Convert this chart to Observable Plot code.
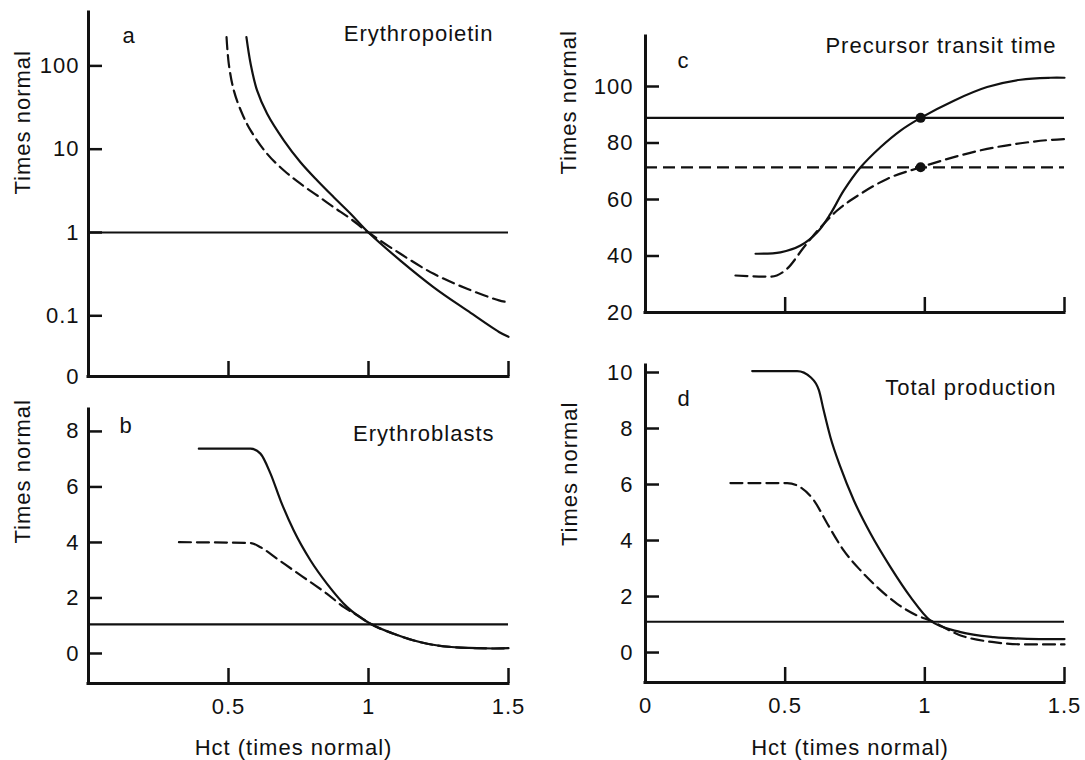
<!DOCTYPE html>
<html>
<head>
<meta charset="utf-8">
<script src="https://cdn.jsdelivr.net/npm/d3@7"></script>
<script src="https://cdn.jsdelivr.net/npm/@observablehq/plot@0.6"></script>
<style>
  body { margin: 0; background: #fff; }
  #root { position: relative; width: 1085px; height: 760px; background: #fff; overflow: hidden;
          font-family: "Liberation Sans", Arial, Helvetica, sans-serif; }
  #root > div { position: absolute; }
</style>
</head>
<body>
<div id="root">
  <div id="pa" style="left:0px;top:0px"></div>
  <div id="pb" style="left:0px;top:380px"></div>
  <div id="pc" style="left:540px;top:0px"></div>
  <div id="pd" style="left:540px;top:340px"></div>
</div>
<script>
// ---------------- DATA ----------------
// shared x axis (Hct, times normal)
const xTickVals = [0.5, 1, 1.5];
const xTickText = ["0.5", "1", "1.5"];
const xTickValsD = [0, 0.5, 1, 1.5];
const xTickTextD = ["0", "0.5", "1", "1.5"];

// (a) Erythropoietin (log scale; bottom of the axis is labelled "0")
const epoAxisMin = 0.01867;
const epoAxisMax = 437.5;
const epoTickVals = [0.1, 1, 10, 100];
const epoLabelVals = [0.01867, 0.1, 1, 10, 100];
const epoLabelText = ["0", "0.1", "1", "10", "100"];
const epoSolidHct = [0.564, 0.579, 0.602, 0.638, 0.698, 0.757, 0.817, 0.876, 0.936, 1.0, 1.114, 1.233, 1.352, 1.466, 1.5];
const epoSolid    = [221, 106, 50.7, 26.6, 12.7, 6.98, 4.21, 2.65, 1.68, 1.0, 0.46, 0.22, 0.116, 0.064, 0.056];
const epoDashHct  = [0.493, 0.501, 0.519, 0.549, 0.579, 0.638, 0.698, 0.757, 0.817, 0.876, 0.936, 1.0, 1.114, 1.233, 1.352, 1.466, 1.5];
const epoDash     = [221, 106, 50.7, 26.6, 16.8, 8.8, 5.55, 3.85, 2.78, 2.01, 1.46, 1.0, 0.555, 0.319, 0.211, 0.153, 0.145];
const epoNormal = [1];

// (b) Erythroblasts
const ebTickVals = [0, 2, 4, 6, 8];
const ebTickText = ["0", "2", "4", "6", "8"];
const ebSolidHct = [0.394, 0.579, 0.614, 0.65, 0.686, 0.733, 0.793, 0.852, 0.924, 1.007, 1.09, 1.21, 1.329, 1.448, 1.5];
const ebSolid    = [7.38, 7.38, 7.2, 6.48, 5.51, 4.43, 3.35, 2.51, 1.67, 1.07, 0.71, 0.35, 0.21, 0.18, 0.19];
const ebDashHct  = [0.323, 0.579, 0.614, 0.674, 0.733, 0.793, 0.852, 0.912, 0.971, 1.007, 1.09, 1.21, 1.329, 1.448, 1.5];
const ebDash     = [4.01, 3.98, 3.83, 3.41, 2.99, 2.57, 2.15, 1.67, 1.31, 1.07, 0.71, 0.35, 0.21, 0.18, 0.19];
const ebNormal = [1.05];

// (c) Precursor transit time
const ptTickVals = [40, 60, 80, 100];
const ptLabelVals = [20, 40, 60, 80, 100];
const ptLabelText = ["20", "40", "60", "80", "100"];
const ptSolidHct = [0.394, 0.483, 0.555, 0.615, 0.662, 0.710, 0.770, 0.841, 0.913, 0.985, 1.104, 1.223, 1.343, 1.450, 1.5];
const ptSolid    = [40.8, 41.3, 43.7, 48.4, 54.9, 63.2, 71.4, 78.5, 84.4, 88.9, 95.0, 99.8, 102.4, 103.1, 103.1];
const ptDashHct  = [0.322, 0.448, 0.507, 0.567, 0.627, 0.686, 0.770, 0.865, 0.985, 1.104, 1.223, 1.343, 1.450, 1.5];
const ptDash     = [33.1, 32.7, 35.5, 43.1, 50.2, 56.1, 62.0, 67.3, 71.4, 75.0, 77.9, 79.9, 81.1, 81.4];
const ptSolidLevel = [88.9];
const ptDashLevel = [71.4];
const ptDotHct = [0.985, 0.985];
const ptDotVal = [88.9, 71.4];

// (d) Total production
const tpTickVals = [0, 2, 4, 6, 8, 10];
const tpTickText = ["0", "2", "4", "6", "8", "10"];
const tpSolidHct = [0.382, 0.543, 0.591, 0.621, 0.638, 0.662, 0.698, 0.746, 0.806, 0.877, 0.949, 1.02, 1.128, 1.247, 1.367, 1.45, 1.5];
const tpSolid    = [10.05, 10.05, 9.83, 9.36, 8.64, 7.69, 6.62, 5.43, 4.24, 3.05, 1.98, 1.14, 0.73, 0.55, 0.49, 0.48, 0.48];
const tpDashHct  = [0.304, 0.507, 0.555, 0.603, 0.651, 0.71, 0.770, 0.83, 0.901, 0.973, 1.02, 1.128, 1.247, 1.367, 1.45, 1.5];
const tpDash     = [6.05, 6.05, 5.9, 5.43, 4.6, 3.64, 2.93, 2.33, 1.74, 1.32, 1.14, 0.61, 0.37, 0.29, 0.29, 0.29];
const tpNormal = [1.1];

// ---------------- DRAWING ----------------
const INK = "#111";
const FONT = '"Liberation Sans", Arial, Helvetica, sans-serif';
const FS = 22;
const DASH = "12,6";
const pts = (xs, ys) => xs.map((x, i) => ({x, y: ys[i]}));

function panel(p) {
  const yMap = new Map(p.yLabelVals.map((v, i) => [v, p.yLabelText[i]]));
  const xMap = new Map(p.xLabelVals.map((v, i) => [v, p.xLabelText[i]]));
  const marks = [
    Plot.ruleX([0], {stroke: INK, strokeWidth: 3, strokeLinecap: "square"}),
    Plot.ruleY([p.y.domain[0]], {stroke: INK, strokeWidth: 3, strokeLinecap: "square"}),
    // inward tick marks: tick drawn outward then shifted inside by its own length
    Plot.axisY(p.yTickVals, {tickSize: 14, dx: 14, tickFormat: () => "", stroke: INK, strokeWidth: 2.5, label: null}),
    Plot.axisY(p.yLabelVals, {tickSize: 0, tickPadding: p.yPad, tickFormat: d => yMap.get(d), fill: INK, fontSize: FS, label: null}),
    Plot.axisX(xTickVals, {tickSize: 15, dy: -15, tickFormat: () => "", stroke: INK, strokeWidth: 2.5, label: null})
  ];
  if (p.xLabelVals.length) {
    marks.push(Plot.axisX(p.xLabelVals, {tickSize: 0, tickPadding: 15, tickFormat: d => xMap.get(d), fill: INK, fontSize: FS, label: null}));
    marks.push(Plot.text(["Hct (times normal)"], {text: d => d, frameAnchor: "bottom", lineAnchor: "middle", dx: -5, dy: p.xTitleDy, fontSize: FS, fill: INK}));
  }
  marks.push(Plot.text(["Times normal"], {text: d => d, frameAnchor: "left", lineAnchor: "middle", rotate: -90, dx: p.yTitleDx, dy: p.yTitleDy || 0, fontSize: FS, fill: INK}));
  marks.push(Plot.text([p.letter], {text: d => d, frameAnchor: "top-left", lineAnchor: "middle", textAnchor: "start", dx: p.letterDx, dy: p.letterDy, fontSize: FS, fill: INK}));
  marks.push(Plot.text([p.title], {text: d => d, frameAnchor: "top-right", lineAnchor: "middle", textAnchor: "end", dx: p.titleDx, dy: p.titleDy, fontSize: FS, fill: INK}));
  marks.push(...p.marks);
  const svg = Plot.plot({
    width: p.width, height: p.height,
    marginLeft: p.ml, marginRight: p.mr, marginTop: p.mt, marginBottom: p.mb,
    style: {fontFamily: FONT, fontSize: FS + "px", letterSpacing: "1px", background: "transparent", overflow: "visible", color: INK},
    x: {domain: [0, 1.5]},
    y: p.y,
    marks
  });
  document.getElementById(p.el).appendChild(svg);
}

const base = {x: "x", y: "y", stroke: INK, strokeWidth: 2.2};
const smoothSolid = {...base, curve: "catmull-rom"};
const smoothDashed = {...smoothSolid, strokeDasharray: DASH};
const flatSolid = {...base, curve: "monotone-x"};
const flatDashed = {...flatSolid, strokeDasharray: DASH};

// (a)
panel({
  el: "pa", width: 540, height: 385, ml: 88, mr: 32, mt: 12, mb: 9,
  y: {type: "log", domain: [epoAxisMin, epoAxisMax]},
  yTickVals: epoTickVals, yLabelVals: epoLabelVals, yLabelText: epoLabelText, yPad: 9,
  xLabelVals: [], xLabelText: [],
  yTitleDx: -66, letter: "a", letterDx: 34, letterDy: 23,
  title: "Erythropoietin", titleDx: -15, titleDy: 21,
  marks: [
    Plot.ruleY(epoNormal, {stroke: INK, strokeWidth: 2.2}),
    Plot.line(pts(epoSolidHct, epoSolid), smoothSolid),
    Plot.line(pts(epoDashHct, epoDash), smoothDashed)
  ]
});

// (b)
panel({
  el: "pb", width: 540, height: 380, ml: 88, mr: 32, mt: 29, mb: 77,
  y: {domain: [-1.081, 8.79]},
  yTickVals: ebTickVals, yLabelVals: ebTickVals, yLabelText: ebTickText, yPad: 9,
  xLabelVals: xTickVals, xLabelText: xTickText, xTitleDy: 64,
  yTitleDx: -66, yTitleDy: -3, letter: "b", letterDx: 31, letterDy: 16,
  title: "Erythroblasts", titleDx: -14, titleDy: 24,
  marks: [
    Plot.ruleY(ebNormal, {stroke: INK, strokeWidth: 2.2}),
    Plot.line(pts(ebSolidHct, ebSolid), flatSolid),
    Plot.line(pts(ebDashHct, ebDash), flatDashed)
  ]
});

// (c)
panel({
  el: "pc", width: 545, height: 320, ml: 105, mr: 21, mt: 36, mb: 8,
  y: {domain: [20, 117.7]},
  yTickVals: ptTickVals, yLabelVals: ptLabelVals, yLabelText: ptLabelText, yPad: 12,
  xLabelVals: [], xLabelText: [],
  yTitleDx: -77, letter: "c", letterDx: 32, letterDy: 24,
  title: "Precursor transit time", titleDx: -8, titleDy: 9,
  marks: [
    Plot.ruleY(ptSolidLevel, {stroke: INK, strokeWidth: 2.2}),
    Plot.ruleY(ptDashLevel, {stroke: INK, strokeWidth: 2.2, strokeDasharray: DASH}),
    Plot.line(pts(ptSolidHct, ptSolid), smoothSolid),
    Plot.line(pts(ptDashHct, ptDash), flatDashed),
    Plot.dot(pts(ptDotHct, ptDotVal), {x: "x", y: "y", r: 5, fill: INK, stroke: "none"})
  ]
});

// (d)
panel({
  el: "pd", width: 545, height: 420, ml: 105, mr: 21, mt: 25, mb: 78,
  y: {domain: [-1.07, 10.25]},
  yTickVals: tpTickVals, yLabelVals: tpTickVals, yLabelText: tpTickText, yPad: 12,
  xLabelVals: xTickValsD, xLabelText: xTickTextD, xTitleDy: 65,
  yTitleDx: -76, yTitleDy: 22, letter: "d", letterDx: 32, letterDy: 33,
  title: "Total production", titleDx: -8, titleDy: 22,
  marks: [
    Plot.ruleY(tpNormal, {stroke: INK, strokeWidth: 2.2}),
    Plot.line(pts(tpSolidHct, tpSolid), flatSolid),
    Plot.line(pts(tpDashHct, tpDash), flatDashed)
  ]
});
</script>
</body>
</html>
